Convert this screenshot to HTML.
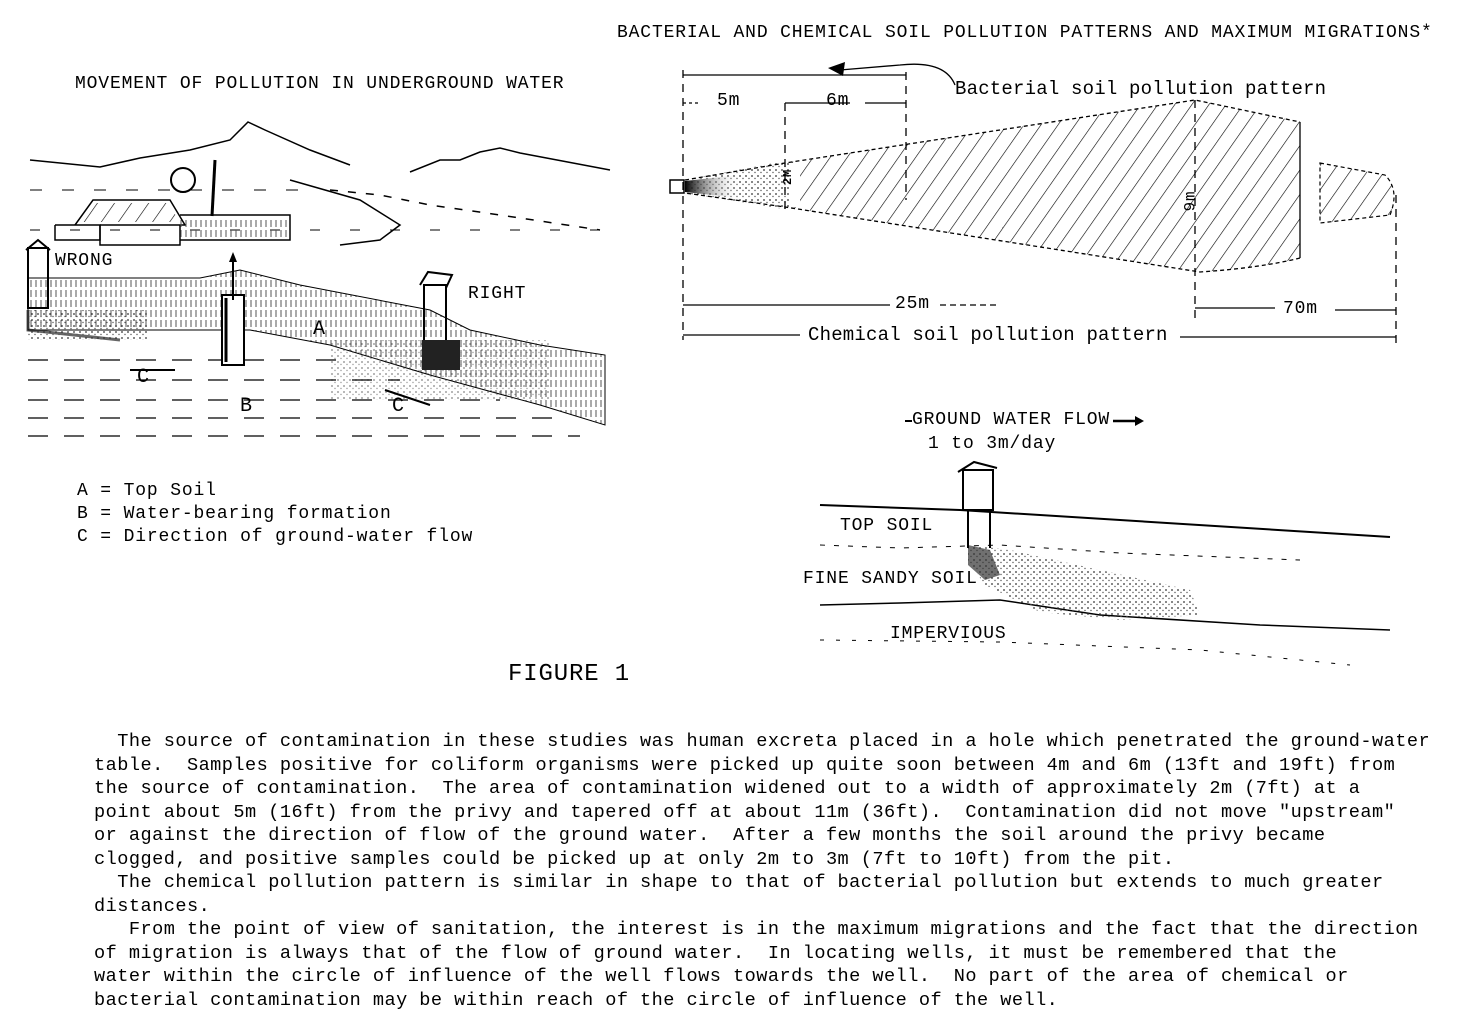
<!DOCTYPE html>
<html><head><meta charset="utf-8"><style>
html,body{margin:0;padding:0;background:#fff;}
body{width:1461px;height:1029px;position:relative;overflow:hidden;font-family:"Liberation Mono",monospace;color:#000;}
svg{position:absolute;left:0;top:0;}
.t{position:absolute;white-space:pre;font-size:18px;letter-spacing:0.85px;}
.p{position:absolute;left:94px;top:730px;width:1360px;font-size:18.6px;line-height:23.5px;white-space:pre;letter-spacing:0.46px;}
</style></head><body>
<svg width="1461" height="1029" viewBox="0 0 1461 1029">
<defs>
<pattern id="h" width="14" height="14" patternUnits="userSpaceOnUse" patternTransform="rotate(35)">
<line x1="0" y1="0" x2="0" y2="14" stroke="#000" stroke-width="1.2"/></pattern>
<pattern id="v" width="5" height="10" patternUnits="userSpaceOnUse">
<line x1="1" y1="0" x2="1" y2="7" stroke="#555" stroke-width="1"/></pattern>
<pattern id="d" width="6" height="6" patternUnits="userSpaceOnUse">
<circle cx="2" cy="2" r="0.9" fill="#333"/><circle cx="5" cy="4.5" r="0.7" fill="#555"/></pattern>
<linearGradient id="g1" x1="0" x2="1"><stop offset="0" stop-color="#000"/><stop offset="1" stop-color="#fff" stop-opacity="0"/></linearGradient>
</defs>
<g stroke="#000" fill="none" stroke-width="1.5">
<path d="M30 160 L100 167 L140 158 L190 150 L230 140 L248 122 L265 130 L310 150 L350 165"/>
<path d="M410 172 L440 160 L460 160 L480 152 L500 148 L520 153 L610 170"/>
<path d="M290 180 L360 200 L400 225 L380 240 L340 245"/>
<path d="M330 190 L380 195 L430 205 L500 215 L600 230" stroke-dasharray="8 10"/>
<path d="M30 230 L600 230" stroke-dasharray="10 30" stroke-width="1"/>
<path d="M30 190 L300 190" stroke-dasharray="12 20" stroke-width="1"/>
<path d="M55 225 L55 240 L100 240 L100 225 L55 225"/>
<path d="M75 225 L93 200 L170 200 L185 225 L100 225"/>
<path d="M100 225 L100 245 L180 245 L180 225"/>
<path d="M180 215 L290 215 L290 240 L180 240" />
</g>
<g fill="url(#v)"><rect x="180" y="218" width="110" height="20"/><path d="M80 222 L95 203 L168 203 L180 222Z" fill="url(#h)"/></g>
<circle cx="183" cy="180" r="12" fill="none" stroke="#000" stroke-width="2"/>
<line x1="215" y1="160" x2="212" y2="216" stroke="#000" stroke-width="3"/>
<path d="M28 278 L200 278 L240 270 L300 285 L430 310 L470 330 L540 345 L605 355 L605 425 L540 405 L430 375 L330 345 L250 330 L100 330 L28 330Z" fill="url(#v)" stroke="#000" stroke-width="1"/>
<path d="M28 310 L28 330 L120 340" fill="none" stroke="#000" stroke-width="3" opacity=".6"/>
<rect x="28" y="310" width="120" height="30" fill="url(#d)"/>
<rect x="330" y="340" width="220" height="60" fill="url(#d)" opacity=".6"/>
<g stroke="#000" stroke-width="1.2" stroke-dasharray="20 16">
<line x1="28" y1="360" x2="350" y2="360"/><line x1="28" y1="380" x2="400" y2="380"/>
<line x1="28" y1="400" x2="500" y2="400"/><line x1="28" y1="418" x2="560" y2="418"/>
<line x1="28" y1="436" x2="580" y2="436"/>
</g>
<rect x="222" y="295" width="22" height="70" fill="#fff" stroke="#000" stroke-width="2"/>
<line x1="226" y1="298" x2="226" y2="362" stroke="#000" stroke-width="3"/>
<line x1="233" y1="255" x2="233" y2="300" stroke="#000" stroke-width="2"/>
<path d="M229 262 L233 252 L237 262Z"/>
<rect x="28" y="248" width="20" height="60" fill="none" stroke="#000" stroke-width="2"/>
<path d="M26 250 L38 240 L50 250" fill="none" stroke="#000" stroke-width="2"/>
<rect x="424" y="285" width="22" height="70" fill="none" stroke="#000" stroke-width="2"/>
<path d="M420 285 L428 272 L452 275 L446 288" fill="none" stroke="#000" stroke-width="2"/>
<rect x="422" y="340" width="38" height="30" fill="#222"/>
<line x1="130" y1="370" x2="175" y2="370" stroke="#000" stroke-width="2"/>
<line x1="385" y1="390" x2="430" y2="405" stroke="#000" stroke-width="2"/>
<path d="M685 180 L785 163 L1195 100 L1300 122 L1300 258 Q1260 268 1200 272 L785 207 L685 193Z" fill="url(#h)"/>
<path d="M685 180 L785 163 L800 163 L800 207 L785 207 L685 193Z" fill="#fff"/>
<path d="M685 180 L790 160 L790 210 L685 193Z" fill="url(#d)"/>
<path d="M685 181 L740 175 L740 198 L685 192Z" fill="url(#g1)"/>
<path d="M685 180 L785 163 L1195 100 L1300 122" fill="none" stroke="#000" stroke-width="1.3" stroke-dasharray="4 3"/>
<path d="M1300 122 L1300 258" fill="none" stroke="#000" stroke-width="1.3"/>
<path d="M1300 258 Q1260 268 1200 272 L785 207 L685 193" fill="none" stroke="#000" stroke-width="1.3" stroke-dasharray="4 3"/>
<rect x="670" y="180" width="14" height="13" fill="#fff" stroke="#000" stroke-width="1.5"/>
<path d="M1320 163 L1385 175 Q1400 190 1390 215 L1320 223Z" fill="url(#h)" stroke="#000" stroke-width="1.2" stroke-dasharray="4 3"/>
<g stroke="#000" stroke-width="1.3" fill="none">
<line x1="683" y1="70" x2="683" y2="340" stroke-dasharray="8 6"/>
<line x1="785" y1="103" x2="785" y2="210" stroke-dasharray="8 6"/>
<line x1="906" y1="72" x2="906" y2="200" stroke-dasharray="8 6"/>
<line x1="1195" y1="100" x2="1195" y2="320" stroke-dasharray="8 6"/>
<line x1="1396" y1="195" x2="1396" y2="345" stroke-dasharray="8 6"/>
<line x1="683" y1="75" x2="906" y2="75"/>
<line x1="683" y1="103" x2="700" y2="103" stroke-dasharray="3 3"/>
<line x1="785" y1="103" x2="850" y2="103"/><line x1="865" y1="103" x2="906" y2="103"/>
<line x1="683" y1="305" x2="890" y2="305"/><line x1="940" y1="305" x2="1000" y2="305" stroke-dasharray="6 4"/>
<line x1="1195" y1="308" x2="1275" y2="308"/><line x1="1335" y1="310" x2="1396" y2="310"/>
<line x1="683" y1="335" x2="800" y2="335"/><line x1="1180" y1="337" x2="1396" y2="337"/>
<path d="M955 85 Q945 60 900 65 L840 70"/>
</g>
<path d="M828 68 L845 62 L843 76Z"/>
<path d="M820 505 L960 510 L1390 537" fill="none" stroke="#000" stroke-width="2"/>
<path d="M820 545 L900 548 L1000 545 L1120 553 L1300 560" fill="none" stroke="#000" stroke-width="1" stroke-dasharray="5 9"/>
<path d="M820 605 L900 603 L1000 600 L1100 615 L1260 625 L1390 630" fill="none" stroke="#000" stroke-width="1.5"/>
<path d="M820 640 L1000 642 L1200 650 L1350 665" fill="none" stroke="#000" stroke-width="1" stroke-dasharray="4 12"/>
<path d="M968 545 L1010 550 L1100 570 L1190 590 L1200 615 L1120 620 L1040 612 L985 585 L968 560Z" fill="url(#d)"/>
<path d="M968 545 L990 550 L1000 575 L985 580 L968 565Z" fill="#333" opacity=".7"/>
<rect x="963" y="470" width="30" height="40" fill="#fff" stroke="#000" stroke-width="2"/>
<path d="M958 472 L974 462 L997 468" fill="none" stroke="#000" stroke-width="2"/>
<path d="M968 510 L968 548 M990 512 L990 548" stroke="#000" stroke-width="2" fill="none"/>
<line x1="1113" y1="421" x2="1140" y2="421" stroke="#000" stroke-width="2.5"/>
<path d="M1135 416 L1144 421 L1135 426Z"/>
<line x1="905" y1="421" x2="912" y2="421" stroke="#000" stroke-width="2"/>
</svg>
<div class="t" style="left:617px;top:23px;">BACTERIAL AND CHEMICAL SOIL POLLUTION PATTERNS AND MAXIMUM MIGRATIONS*</div>
<div class="t" style="left:75px;top:74px;">MOVEMENT OF POLLUTION IN UNDERGROUND WATER</div>
<div class="t" style="left:955px;top:78px;font-size:19px;letter-spacing:0.2px;">Bacterial soil pollution pattern</div>
<div class="t" style="left:717px;top:91px;">5m</div>
<div class="t" style="left:826px;top:91px;">6m</div>
<div class="t" style="left:780px;top:170px;font-size:12px;font-weight:bold;transform:rotate(-90deg);">2M</div>
<div class="t" style="left:1180px;top:192px;font-size:16px;transform:rotate(-90deg);">9m</div>
<div class="t" style="left:895px;top:294px;">25m</div>
<div class="t" style="left:1283px;top:299px;">70m</div>
<div class="t" style="left:808px;top:324px;font-size:19px;letter-spacing:0.2px;">Chemical soil pollution pattern</div>
<div class="t" style="left:55px;top:251px;">WRONG</div>
<div class="t" style="left:468px;top:284px;">RIGHT</div>
<div class="t" style="left:313px;top:318px;font-size:20px;">A</div>
<div class="t" style="left:137px;top:366px;font-size:20px;">C</div>
<div class="t" style="left:240px;top:395px;font-size:20px;">B</div>
<div class="t" style="left:392px;top:395px;font-size:20px;">C</div>
<div class="t" style="left:77px;top:481px;">A = Top Soil</div>
<div class="t" style="left:77px;top:504px;">B = Water-bearing formation</div>
<div class="t" style="left:77px;top:527px;">C = Direction of ground-water flow</div>
<div class="t" style="left:912px;top:410px;">GROUND WATER FLOW</div>
<div class="t" style="left:928px;top:434px;">1 to 3m/day</div>
<div class="t" style="left:840px;top:516px;">TOP SOIL</div>
<div class="t" style="left:803px;top:569px;">FINE SANDY SOIL</div>
<div class="t" style="left:890px;top:624px;">IMPERVIOUS</div>
<div class="t" style="left:508px;top:661px;font-size:24px;">FIGURE 1</div>
<div class="p">  The source of contamination in these studies was human excreta placed in a hole which penetrated the ground-water
table.  Samples positive for coliform organisms were picked up quite soon between 4m and 6m (13ft and 19ft) from
the source of contamination.  The area of contamination widened out to a width of approximately 2m (7ft) at a
point about 5m (16ft) from the privy and tapered off at about 11m (36ft).  Contamination did not move "upstream"
or against the direction of flow of the ground water.  After a few months the soil around the privy became
clogged, and positive samples could be picked up at only 2m to 3m (7ft to 10ft) from the pit.
  The chemical pollution pattern is similar in shape to that of bacterial pollution but extends to much greater
distances.
   From the point of view of sanitation, the interest is in the maximum migrations and the fact that the direction
of migration is always that of the flow of ground water.  In locating wells, it must be remembered that the
water within the circle of influence of the well flows towards the well.  No part of the area of chemical or
bacterial contamination may be within reach of the circle of influence of the well.</div>
</body></html>
